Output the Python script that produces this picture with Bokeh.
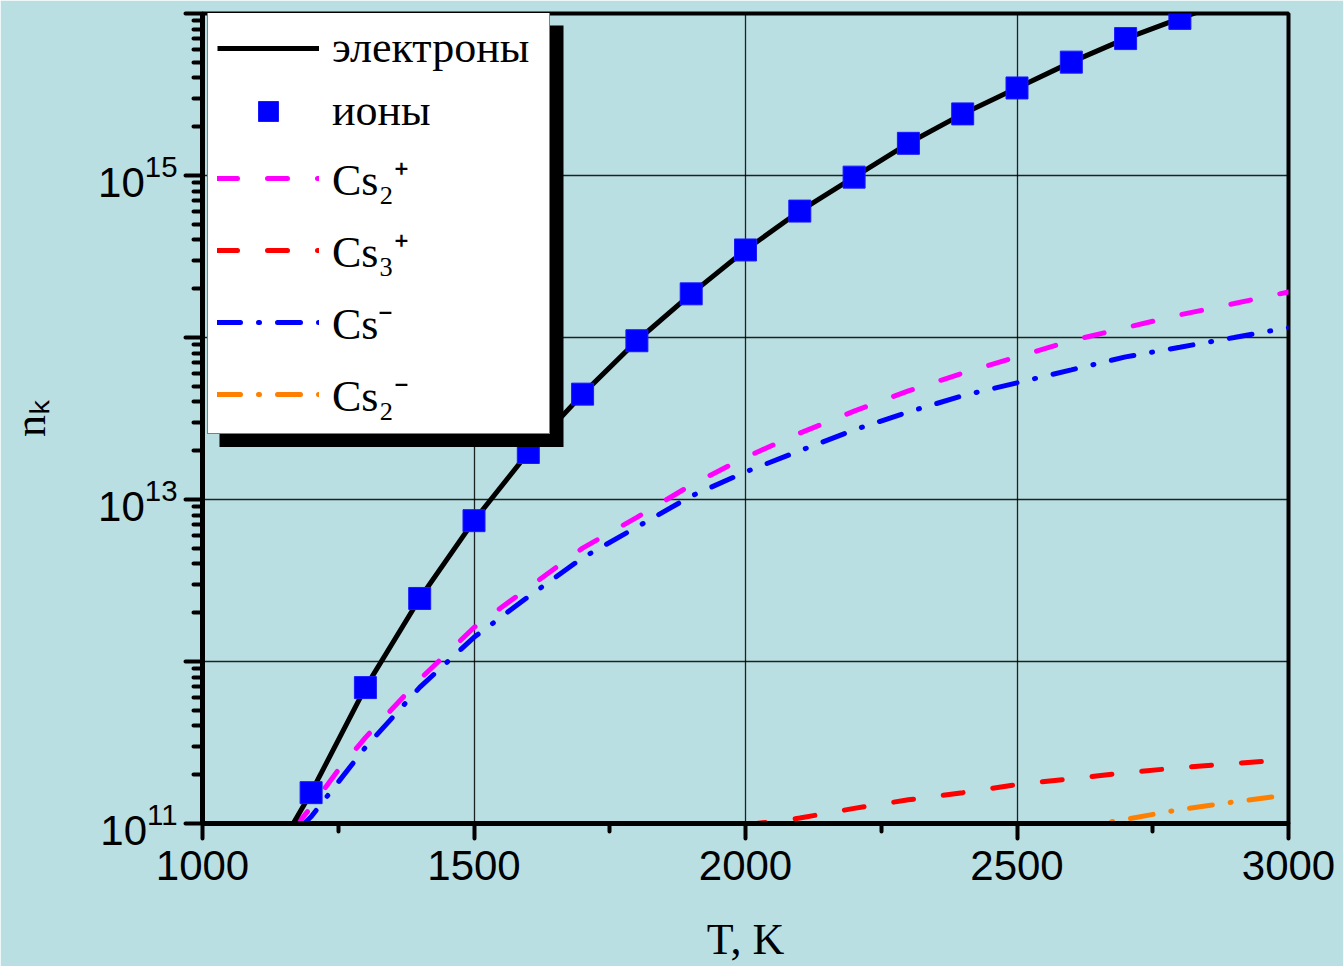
from bokeh.plotting import figure
from bokeh.models import FixedTicker, Legend, LegendItem, BoxAnnotation
from bokeh.embed import file_html
from bokeh.resources import INLINE

# ---------------- data ----------------
T_electrons = [1160, 1200, 1300, 1400, 1500, 1600, 1700, 1800, 1900, 2000,
               2100, 2200, 2300, 2400, 2500, 2600, 2700, 2800, 2900, 3000]
n_electrons = [9.1e10, 1.55e11, 6.9e11, 2.45e12, 7.4e12, 1.95e13, 4.47e13, 9.55e13,
               1.86e14, 3.47e14, 6.03e14, 9.77e14, 1.58e15, 2.40e15, 3.47e15,
               5.01e15, 7.0e15, 9.33e15, 1.23e16, 1.58e16]

T_ions = [1200, 1300, 1400, 1500, 1600, 1700, 1800, 1900, 2000,
          2100, 2200, 2300, 2400, 2500, 2600, 2700, 2800]
n_ions = [1.55e11, 6.9e11, 2.45e12, 7.4e12, 1.95e13, 4.47e13, 9.55e13, 1.86e14,
          3.47e14, 6.03e14, 9.77e14, 1.58e15, 2.40e15, 3.47e15, 5.01e15, 7.0e15, 9.33e15]

T_cs2p = [1170, 1200, 1250, 1300, 1400, 1500, 1600, 1700, 1800, 1900, 2000,
          2100, 2200, 2300, 2400, 2500, 2600, 2700, 2800, 2900, 3000]
n_cs2p = [9.5e10, 1.26e11, 2.14e11, 3.39e11, 7.76e11, 1.62e12, 2.85e12, 5.01e12,
          7.76e12, 1.23e13, 1.82e13, 2.57e13, 3.51e13, 4.68e13, 6.03e13, 7.59e13,
          9.55e13, 1.15e14, 1.38e14, 1.62e14, 1.91e14]

T_cs3p = [2000, 2100, 2200, 2300, 2400, 2500, 2600, 2700, 2800, 2900, 3000]
n_cs3p = [9.8e10, 1.08e11, 1.24e11, 1.40e11, 1.55e11, 1.74e11, 1.89e11, 2.06e11,
          2.21e11, 2.35e11, 2.48e11]

T_csm = [1180, 1200, 1300, 1400, 1500, 1600, 1700, 1800, 1900, 2000,
         2100, 2200, 2300, 2400, 2500, 2600, 2700, 2800, 2900, 3000]
n_csm = [9.5e10, 1.10e11, 2.95e11, 6.92e11, 1.41e12, 2.51e12, 4.37e12, 6.76e12,
         1.05e13, 1.48e13, 2.0e13, 2.69e13, 3.47e13, 4.37e13, 5.25e13, 6.31e13,
         7.59e13, 8.71e13, 1.0e14, 1.15e14]

T_cs2m = [2600, 2700, 2800, 2900, 3000]
n_cs2m = [9.3e10, 1.06e11, 1.22e11, 1.36e11, 1.50e11]

x_ticks = [1000, 1500, 2000, 2500, 3000]
x_minor = [1250, 1750, 2250, 2750]
y_decades = [11, 12, 13, 14, 15, 16]
y_labelled = [11, 13, 15]

labels = ["электроны", "ионы", "Cs₂⁺", "Cs₃⁺", "Cs⁻", "Cs₂⁻"]

# ---------------- figure ----------------
BG = "#badfe2"
X0, X1 = 1000, 3000
Y0, Y1 = 1e11, 1e16
FL, FR, FT, FB = 202, 1288, 13, 824   # frame edges in page pixels

p = figure(width=1343, height=966, x_range=(X0, X1), y_range=(Y0, Y1),
           y_axis_type="log", output_backend="svg", toolbar_location=None,
           background_fill_color=BG, border_fill_color=BG,
           min_border_left=FL, min_border_right=1343 - FR,
           min_border_top=FT, min_border_bottom=966 - FB)

p.outline_line_color = "black"
p.outline_line_width = 4

p.xaxis.ticker = FixedTicker(ticks=x_ticks, minor_ticks=x_minor)
y_major = [10.0 ** e for e in y_decades]
y_minor = [k * 10.0 ** e for e in y_decades[:-1] for k in range(2, 10)]
p.yaxis.ticker = FixedTicker(ticks=y_major, minor_ticks=y_minor)
p.yaxis.major_label_overrides = {10.0 ** e: "" for e in y_decades if e not in y_labelled}

for ax in (p.xaxis[0], p.yaxis[0]):
    ax.axis_line_width = 5
    ax.axis_line_color = "black"
    ax.major_tick_line_width = 4
    ax.major_tick_line_cap = "round"
    ax.minor_tick_line_width = 4
    ax.minor_tick_line_cap = "round"
    ax.major_tick_in = 0
    ax.minor_tick_in = 0
    ax.major_label_text_font = "Liberation Sans"
    ax.major_label_text_font_size = "42px"
    ax.major_label_text_color = "black"
    ax.axis_label_text_font = "Liberation Serif"
    ax.axis_label_text_font_size = "44px"
    ax.axis_label_text_font_style = "normal"
    ax.axis_label_text_color = "black"

p.xaxis.major_tick_out = 15
p.xaxis.minor_tick_out = 8
p.yaxis.major_tick_out = 17
p.yaxis.minor_tick_out = 9
p.xaxis.major_label_standoff = 12
p.yaxis.major_label_standoff = 8
p.xaxis.axis_label = "T, K"
p.yaxis.axis_label = "nₖ"
p.xaxis.axis_label_standoff = 32
p.yaxis.axis_label_standoff = 40

p.grid.grid_line_color = "black"
p.grid.grid_line_width = 1.3
p.grid.grid_line_alpha = 0.85

LW = 5
r_cs2p = p.line(T_cs2p, n_cs2p, line_color="#ff00ff", line_width=LW,
                line_dash="20 30", line_cap="round")
r_cs3p = p.line(T_cs3p, n_cs3p, line_color="#ff0000", line_width=LW,
                line_dash="20 30", line_cap="round")
r_csm = p.line(T_csm, n_csm, line_color="#0000ff", line_width=LW,
               line_dash="23 18 1 18", line_cap="round")
r_cs2m = p.line(T_cs2m, n_cs2m, line_color="#ff8000", line_width=LW,
                line_dash="23 18 1 18", line_cap="round")
r_e = p.line(T_electrons, n_electrons, line_color="black", line_width=LW)
r_ion = p.scatter(T_ions, n_ions, marker="square", size=22,
                  fill_color="#0000ff", line_color="#1a1aff", line_width=1)

# legend shadow (layout helpers convert page pixels to data coords)
def x_of(px):
    return X0 + (px - FL) * (X1 - X0) / float(FR - FL)

def y_of(py):
    return 10 ** (11 + (FB - py) * 5.0 / float(FB - FT))

shadow = BoxAnnotation(left=x_of(219), right=x_of(563), top=y_of(25), bottom=y_of(447),
                       fill_color="black", fill_alpha=1.0, line_alpha=0.0)
p.add_layout(shadow)

legend = Legend(
    items=[LegendItem(label=labels[0], renderers=[r_e]),
           LegendItem(label=labels[1], renderers=[r_ion]),
           LegendItem(label=labels[2], renderers=[r_cs2p]),
           LegendItem(label=labels[3], renderers=[r_cs3p]),
           LegendItem(label=labels[4], renderers=[r_csm]),
           LegendItem(label=labels[5], renderers=[r_cs2m])],
    location=(5, FB - 435), background_fill_color="white", background_fill_alpha=1.0,
    border_line_color="black", border_line_width=1.5,
    label_text_font="Liberation Serif", label_text_font_size="44px",
    label_text_color="black",
    glyph_width=102, glyph_height=50, label_height=50, label_width=208,
    spacing=12, padding=9, margin=0, label_standoff=13)
p.add_layout(legend, "center")

open("out.html", "w").write(file_html(p, INLINE))
